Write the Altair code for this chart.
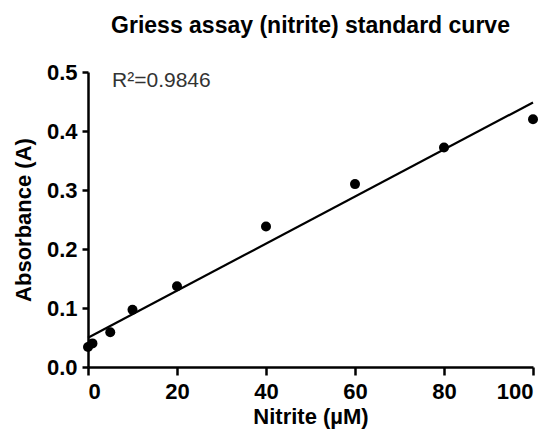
import altair as alt
import pandas as pd

nitrite = [0, 1, 5, 10, 20, 40, 60, 80, 100]
absorbance = [0.034, 0.040, 0.059, 0.097, 0.137, 0.238, 0.310, 0.372, 0.420]
annotation_text = ["R\u00b2=0.9846"]
annotation_x = [5.4]
annotation_y = [0.475]
x_ticks = [0, 20, 40, 60, 80, 100]
y_ticks = [0.0, 0.1, 0.2, 0.3, 0.4, 0.5]

df = pd.DataFrame({"x": nitrite, "y": absorbance})
ann = pd.DataFrame({"x": annotation_x, "y": annotation_y, "t": annotation_text})

FONT = "Liberation Sans"

xscale = alt.Scale(domain=[0, 100], nice=False, zero=False)
yscale = alt.Scale(domain=[0, 0.5], nice=False, zero=False)

xaxis = alt.Axis(
    values=x_ticks, format="d", title="Nitrite (\u00b5M)", grid=False,
    domainColor="black", domainWidth=2.5, tickColor="black", tickWidth=2.5, tickSize=8,
    labelFont=FONT, labelFontSize=22, labelFontWeight="bold", labelColor="black", labelPadding=6,
    titleFont=FONT, titleFontSize=22, titleFontWeight="bold", titleColor="black",
    titleX=222.5, titleY=49, titleBaseline="middle", titleAlign="center",
)
yaxis = alt.Axis(
    values=y_ticks, format=".1f", title="Absorbance (A)", grid=False,
    domainColor="black", domainWidth=2.5, tickColor="black", tickWidth=2.5, tickSize=6,
    labelFont=FONT, labelFontSize=22, labelFontWeight="bold", labelColor="black", labelPadding=5,
    titleFont=FONT, titleFontSize=22, titleFontWeight="bold", titleColor="black",
    titleX=-65, titleY=147.5, titleBaseline="middle", titleAlign="center", titleAngle=270,
)

base = alt.Chart(df)

points = base.mark_circle(size=100, color="black", opacity=1).encode(
    x=alt.X("x:Q", scale=xscale, axis=xaxis),
    y=alt.Y("y:Q", scale=yscale, axis=yaxis),
)

fit = base.transform_regression("x", "y", extent=[0, 100]).mark_line(
    color="black", strokeWidth=2.2
).encode(
    x=alt.X("x:Q", scale=xscale),
    y=alt.Y("y:Q", scale=yscale),
)

label = alt.Chart(ann).mark_text(
    align="left", baseline="alphabetic", font=FONT, fontSize=21, color="#333333"
).encode(
    x=alt.X("x:Q", scale=xscale),
    y=alt.Y("y:Q", scale=yscale),
    text="t:N",
)

chart = alt.layer(fit, points, label).properties(
    width=445,
    height=295,
    title=alt.TitleParams(
        "Griess assay (nitrite) standard curve",
        font=FONT, fontSize=23, fontWeight="bold", color="black",
        anchor="middle", offset=23,
    ),
    autosize=alt.AutoSizeParams(type="none"),
    padding={"left": 80, "top": 64, "right": 12, "bottom": 62},
).configure_view(stroke=None)

chart.save("out.html", embed_options={"renderer": "svg", "actions": False})
